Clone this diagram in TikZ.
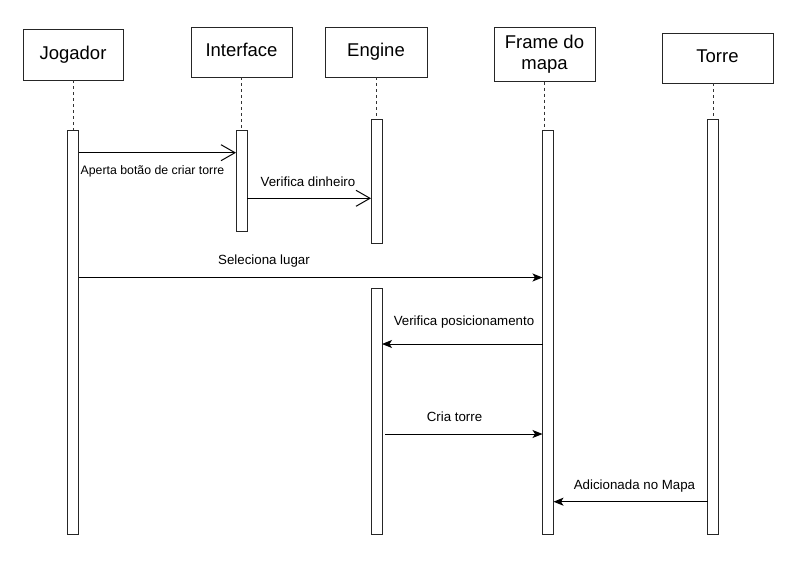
\documentclass[tikz,border=0pt]{standalone}
\usepackage{fontspec}
\setmainfont{Liberation Sans}
\usetikzlibrary{arrows.meta}
\begin{document}
\begin{tikzpicture}[x=1pt,y=-1pt,
  actor/.style={draw=black!85,line width=1pt,fill=white,inner sep=0pt,outer sep=0pt,
    font=\fontsize{18.5}{20.7}\selectfont,align=center},
  actortxt/.style={text height=13.5pt,text depth=3.9pt},
  bar/.style={draw=black!85,line width=1pt,fill=white,inner sep=0pt,outer sep=0pt,
    minimum width=11pt,anchor=north},
  life/.style={draw=black!80,line width=1pt,dash pattern=on 3pt off 3pt},
  msgopen/.style={draw=black,line width=1pt,-{Straight Barb[length=14pt,width=16pt,line width=1pt]}},
  msgfill/.style={draw=black,line width=1pt,-{Stealth[length=10pt,width=8pt,inset=2.5pt]}},
  lbl/.style={inner sep=0pt,font=\fontsize{13.3}{15}\selectfont,anchor=base},
  lblsmall/.style={inner sep=0pt,font=\fontsize{12.3}{14}\selectfont,anchor=base west}
]
\useasboundingbox[fill=white] (0,0) rectangle (797,562);

% actor boxes
\node[actor,actortxt,minimum width=100pt,minimum height=51pt] (jbox) at (73,54.5) {Jogador};
\node[actor,actortxt,minimum width=101pt,minimum height=50pt] (ibox) at (241.5,52) {Interface};
\node[actor,actortxt,minimum width=102pt,minimum height=50pt] (ebox) at (376,52) {Engine};
\node[actor,minimum width=101pt,minimum height=54pt] (fbox) at (544.5,54.5) {Frame do\\mapa};
\node[actor,actortxt,minimum width=111pt,minimum height=50pt] (tbox) at (717.5,58) {Torre};

% activation bar anchors (tops)
\coordinate (jtop) at (73,130);
\coordinate (itop) at (241.5,130);
\coordinate (e1top) at (376.5,119);
\coordinate (e2top) at (376.5,288);
\coordinate (ftop) at (548,130);
\coordinate (ttop) at (713,119);

% lifelines
\draw[life] (jbox.south) -- (jbox.south |- jtop);
\draw[life] (ibox.south) -- (ibox.south |- itop);
\draw[life] (ebox.south) -- (ebox.south |- e1top);
\draw[life] (fbox.south) -- (fbox.south |- ftop);
\draw[life] (ttop |- tbox.south) -- (ttop);

% activation bars
\node[bar,minimum height=404pt] (jbar) at (jtop) {};
\node[bar,minimum height=101pt] (ibar) at (itop) {};
\node[bar,minimum height=124pt] (ebar1) at (e1top) {};
\node[bar,minimum height=246pt] (ebar2) at (e2top) {};
\node[bar,minimum height=404pt] (fbar) at (ftop) {};
\node[bar,minimum height=415pt] (tbar) at (ttop) {};

% message heights
\coordinate (m1) at (0,152.7);
\coordinate (m2) at (0,198.3);
\coordinate (m3) at (0,277.5);
\coordinate (m4) at (0,344);
\coordinate (m5) at (0,434);
\coordinate (m6) at (0,501.7);

% messages
\draw[msgopen] (jbar.east |- m1) -- (ibar.west |- m1);
\draw[msgopen] (ibar.east |- m2) -- (ebar1.west |- m2);
\draw[msgfill] (jbar.east |- m3) -- (fbar.west |- m3);
\draw[msgfill] (fbar.west |- m4) -- (ebar2.east |- m4);
\draw[msgfill] ([xshift=3pt]ebar2.east |- m5) -- (fbar.west |- m5);
\draw[msgfill] (tbar.west |- m6) -- (fbar.east |- m6);

% message labels
\node[lblsmall] (l1) at (80.5,174.3) {Aperta botão de criar torre};
\node[lbl] (l2) at (308,186) {Verifica dinheiro};
\node[lbl] (l3) at (264,264.8) {Seleciona lugar};
\node[lbl] (l4) at (464,325.7) {Verifica posicionamento};
\node[lbl] (l5) at (454.5,421.7) {Cria torre};
\node[lbl] (l6) at (634.5,489.3) {Adicionada no Mapa};
\end{tikzpicture}
\end{document}
